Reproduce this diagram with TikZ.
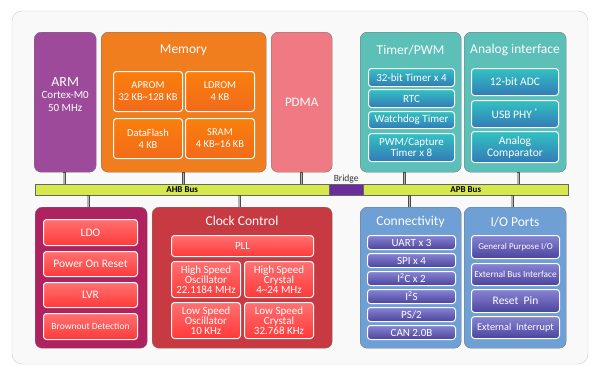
\documentclass[tikz,border=0pt]{standalone}
\usepackage{fontspec}
\setmainfont{Carlito}
\usepackage{xcolor}
\usepackage{tikz}

\definecolor{armc}{HTML}{9E4A9A}
\definecolor{memc}{HTML}{F07D1E}
\definecolor{pdmac}{HTML}{F07A84}
\definecolor{tmrc}{HTML}{5CBFB8}
\definecolor{pwrc}{HTML}{B0215F}
\definecolor{clkc}{HTML}{C83A42}
\definecolor{conc}{HTML}{6E9FD5}
\definecolor{contop}{HTML}{8884D2}
\definecolor{conbot}{HTML}{4A449E}
\definecolor{busc}{HTML}{D6E84A}
\definecolor{bridgec}{HTML}{6B2C9C}

\begin{document}
\begin{tikzpicture}[x=1pt, y=-1pt,
    blk/.style={draw=black!55, rounded corners=7pt, anchor=north west, inner sep=0pt, text=white, align=center},
    sub/.style={draw=white, line width=1pt, rounded corners=3pt, anchor=north west, inner sep=0pt, text=white, align=center, font=\fontsize{10}{10.5}\selectfont},
    memsub/.style={sub, top color=orange!60!memc, bottom color=memc!85!red, font=\fontsize{10.5}{12}\selectfont},
    tmrsub/.style={sub, top color=cyan!40!teal!80, bottom color=teal!70!blue!80, font=\fontsize{11}{11}\selectfont},
    anasub/.style={tmrsub, font=\fontsize{11.5}{12}\selectfont},
    redsub/.style={sub, top color=red!45!pink!95, bottom color=red!70!pink},
    clksub/.style={redsub, font=\fontsize{11}{10}\selectfont},
    consub/.style={sub, top color=contop, bottom color=conbot, font=\fontsize{11}{11}\selectfont},
    title/.style={text=white, font=\fontsize{13.5}{14}\selectfont},
    bus/.style={draw=black!60, fill=busc, anchor=north west, inner sep=0pt, font=\fontsize{9}{9}\selectfont\bfseries},
    stub/.style={draw=black!70, line width=3pt},
    stubin/.style={draw=gray!60, line width=1.5pt}]

    \useasboundingbox (0,0) rectangle (598,365);
    \draw[rounded corners=10pt, fill=gray!5, draw=gray!40] (12,11) rectangle (588,364);

    % top row
    \node[blk, fill=armc, minimum width=62pt, minimum height=140pt] (arm) at (34,32) {};
    \node[text=white, align=center, font=\fontsize{11}{12.5}\selectfont] (armtxt) at (arm.center) [yshift=8pt] {{\fontsize{14}{15}\selectfont ARM}\\Cortex-M0\\50 MHz};
    \node[blk, fill=memc, minimum width=165pt, minimum height=140pt] (mem) at (101,32) {};
    \node[title] (memt) at (183.5,50) {Memory};
    \node[memsub, minimum width=69pt, minimum height=40pt] (aprom) at (113,71) {APROM\\32 KB\textasciitilde128 KB};
    \node[memsub, minimum width=69pt, minimum height=40pt] (ldrom) at (185,71) {LDROM\\4 KB};
    \node[memsub, minimum width=69pt, minimum height=40pt] (dflash) at (113,118) {DataFlash\\4 KB};
    \node[memsub, minimum width=69pt, minimum height=40pt] (sram) at (185,118) {SRAM\\4 KB\textasciitilde16 KB};
    \node[blk, fill=pdmac, minimum width=61pt, minimum height=140pt, font=\fontsize{13}{14}\selectfont] (pdma) at (271,32) {PDMA};

    \node[blk, fill=tmrc, minimum width=101pt, minimum height=140pt] (tmr) at (360,32) {};
    \node[title] (tmrt) at (410.5,50) {Timer/PWM};
    \node[tmrsub, minimum width=86pt, minimum height=18pt] (t32) at (368,68) {32-bit Timer x 4};
    \node[tmrsub, minimum width=86pt, minimum height=18pt] (rtc) at (368,89) {RTC};
    \node[tmrsub, minimum width=86pt, minimum height=17pt] (wdt) at (368,111) {Watchdog Timer};
    \node[tmrsub, minimum width=86pt, minimum height=28pt] (pwm) at (368,133) {PWM/Capture\\Timer x 8};
    \node[blk, fill=tmrc, minimum width=102pt, minimum height=140pt] (ana) at (464,32) {};
    \node[title] (anat) at (515,50) {Analog interface};
    \node[anasub, minimum width=87pt, minimum height=27pt] (adc) at (471,68) {12-bit ADC};
    \node[anasub, minimum width=87pt, minimum height=27pt] (usb) at (471,100) {USB PHY\,\textsuperscript{*}};
    \node[anasub, minimum width=87pt, minimum height=31pt] (acmp) at (471,131) {Analog\\Comparator};

    % bus
    \node[bus, minimum width=294pt, minimum height=11pt] (ahb) at (35,184) {AHB Bus};
    \node[bus, fill=bridgec, minimum width=34pt, minimum height=11pt] (bridge) at (329,184) {};
    \node[bus, minimum width=205pt, minimum height=11pt] (apb) at (363,184) {APB Bus};
    \node[font=\fontsize{9.5}{10}\selectfont, text=black!80, anchor=south, inner sep=1pt] (bridget) at (bridge.north) {Bridge};

    % bottom row
    \node[blk, fill=pwrc, minimum width=112pt, minimum height=141pt] (pwr) at (35,207) {};
    \node[redsub, minimum width=94pt, minimum height=26pt, font=\fontsize{11.5}{12}\selectfont] (ldo) at (43,219) {LDO};
    \node[redsub, minimum width=94pt, minimum height=25pt, font=\fontsize{11.5}{12}\selectfont] (por) at (43,251) {Power On Reset};
    \node[redsub, minimum width=94pt, minimum height=25pt, font=\fontsize{11.5}{12}\selectfont] (lvr) at (43,282) {LVR};
    \node[redsub, minimum width=94pt, minimum height=26pt, font=\fontsize{9.5}{10}\selectfont] (bod) at (43,313) {Brownout Detection};
    \node[blk, fill=clkc, minimum width=180pt, minimum height=141pt] (clk) at (152,207) {};
    \node[title] (clkt) at (242,221) {Clock Control};
    \node[redsub, minimum width=142pt, minimum height=21pt, font=\fontsize{11}{11}\selectfont] (pll) at (171,235) {PLL};
    \node[clksub, minimum width=69pt, minimum height=36pt] (hosc) at (171,261) {High Speed\\Oscillator\\22.1184 MHz};
    \node[clksub, minimum width=69pt, minimum height=36pt] (hxt) at (244,261) {High Speed\\Crystal\\4\textasciitilde24 MHz};
    \node[clksub, minimum width=69pt, minimum height=36pt] (losc) at (171,302) {Low Speed\\Oscillator\\10 KHz};
    \node[clksub, minimum width=69pt, minimum height=36pt] (lxt) at (244,302) {Low Speed\\Crystal\\32.768 KHz};

    \node[blk, fill=conc, minimum width=101pt, minimum height=141pt] (con) at (360,207) {};
    \node[title] (cont) at (410.5,222) {Connectivity};
    \node[consub, minimum width=88pt, minimum height=14pt] (uart) at (367,235) {UART x 3};
    \node[consub, minimum width=88pt, minimum height=14pt] (spi) at (367,253) {SPI x 4};
    \node[consub, minimum width=88pt, minimum height=14pt] (iic) at (367,271) {I\textsuperscript{2}C x 2};
    \node[consub, minimum width=88pt, minimum height=14pt] (iis) at (367,289) {I\textsuperscript{2}S};
    \node[consub, minimum width=88pt, minimum height=14pt] (ps2) at (367,307) {PS/2};
    \node[consub, minimum width=88pt, minimum height=14pt] (can) at (367,325) {CAN 2.0B};
    \node[blk, fill=conc, minimum width=102pt, minimum height=141pt] (io) at (464,207) {};
    \node[title] (iot) at (515,222) {I/O Ports};
    \node[consub, minimum width=88pt, minimum height=23pt, font=\fontsize{9}{9}\selectfont] (gpio) at (471,235) {General Purpose I/O};
    \node[consub, minimum width=88pt, minimum height=22pt, font=\fontsize{9.3}{9}\selectfont] (ebi) at (471,263) {External Bus Interface};
    \node[consub, minimum width=88pt, minimum height=23pt, font=\fontsize{11.5}{12}\selectfont] (rst) at (471,289) {Reset\ \ Pin};
    \node[consub, minimum width=88pt, minimum height=22pt, font=\fontsize{10.3}{10}\selectfont] (eint) at (471,316) {External\ \ Interrupt};

    % stubs to the bus
    \foreach \blk/\bus/\dx in {arm/ahb/-1, mem/ahb/0, pdma/ahb/0, tmr/apb/-6, ana/apb/3} {
        \draw[stub] ([xshift=\dx pt]\blk.south) -- ([xshift=\dx pt]\blk.south |- \bus.north);
        \draw[stubin] ([xshift=\dx pt, yshift=-0.5pt]\blk.south) -- ([xshift=\dx pt, yshift=0.5pt]\blk.south |- \bus.north);
    }
    \foreach \blk/\bus/\dx in {pwr/ahb/-3, clk/ahb/-3, con/apb/-1, io/apb/-3} {
        \draw[stub] ([xshift=\dx pt]\blk.north) -- ([xshift=\dx pt]\blk.north |- \bus.south);
        \draw[stubin] ([xshift=\dx pt, yshift=0.5pt]\blk.north) -- ([xshift=\dx pt, yshift=-0.5pt]\blk.north |- \bus.south);
    }
\end{tikzpicture}
\end{document}
